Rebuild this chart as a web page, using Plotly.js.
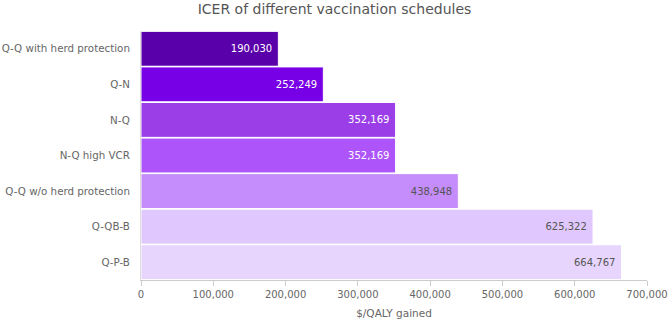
<!DOCTYPE html>
<html>
<head>
<meta charset="utf-8">
<script src="https://cdn.plot.ly/plotly-3.0.1.min.js"></script>
<style>html,body{margin:0;padding:0;background:#fff;}#chart{width:669px;height:319px;}</style>
</head>
<body>
<div id="chart"></div>
<script>
const categories = ["Q-Q with herd protection", "Q-N", "N-Q", "N-Q high VCR", "Q-Q w/o herd protection", "Q-QB-B", "Q-P-B"];
const icerValues = [190030, 252249, 352169, 352169, 438948, 625322, 664767];
const tickValues = [0, 100000, 200000, 300000, 400000, 500000, 600000, 700000];
const barColors = ["#5a00aa", "#7700e6", "#9b3ee8", "#ad55fb", "#c58cfb", "#e0c8fe", "#e7d5fe"];
const labelColors = ["#ffffff", "#ffffff", "#ffffff", "#ffffff", "#555555", "#555555", "#555555"];

const fmt = v => v.toLocaleString('en-US');

const trace = {
  type: 'bar',
  orientation: 'h',
  x: icerValues,
  y: categories,
  text: icerValues.map(v => fmt(v) + '\u00a0'),
  textposition: 'inside',
  insidetextanchor: 'end',
  textangle: 0,
  insidetextfont: {family: 'DejaVu Sans, Verdana, sans-serif', size: 10, color: labelColors},
  marker: {color: barColors, line: {color: '#ffffff', width: 1}},
  hoverinfo: 'none',
  cliponaxis: false
};

const layout = {
  width: 669,
  height: 319,
  margin: {l: 141, r: 22, t: 31, b: 39},
  paper_bgcolor: '#ffffff',
  plot_bgcolor: '#ffffff',
  font: {family: 'DejaVu Sans, Verdana, sans-serif', size: 10, color: '#666666'},
  title: {text: 'ICER of different vaccination schedules', x: 0.5, xanchor: 'center',
          yref: 'container', y: 0.972, yanchor: 'middle',
          pad: {t: 0, b: 0, l: 0, r: 0},
          font: {size: 14, color: '#555555'}},
  bargap: 0.02,
  showlegend: false,
  xaxis: {
    range: [0, 700000],
    tickvals: tickValues,
    ticktext: tickValues.map(fmt),
    showgrid: false,
    zeroline: false,
    showline: true,
    linecolor: '#cccccc',
    linewidth: 1,
    ticks: 'outside',
    tickcolor: '#cccccc',
    ticklen: 5,
    ticklabeloverflow: 'allow',
    tickfont: {size: 10, color: '#666666'},
    title: {text: '$/QALY gained', font: {size: 10.5, color: '#666666'}, standoff: 10},
    fixedrange: true
  },
  yaxis: {
    autorange: 'reversed',
    showgrid: false,
    zeroline: false,
    showline: true,
    linecolor: '#dddddd',
    linewidth: 1,
    ticks: '',
    ticklabelstandoff: 8,
    tickfont: {size: 10.3, color: '#666666'},
    fixedrange: true
  }
};

Plotly.newPlot('chart', [trace], layout, {displayModeBar: false, staticPlot: true});
</script>
</body>
</html>
